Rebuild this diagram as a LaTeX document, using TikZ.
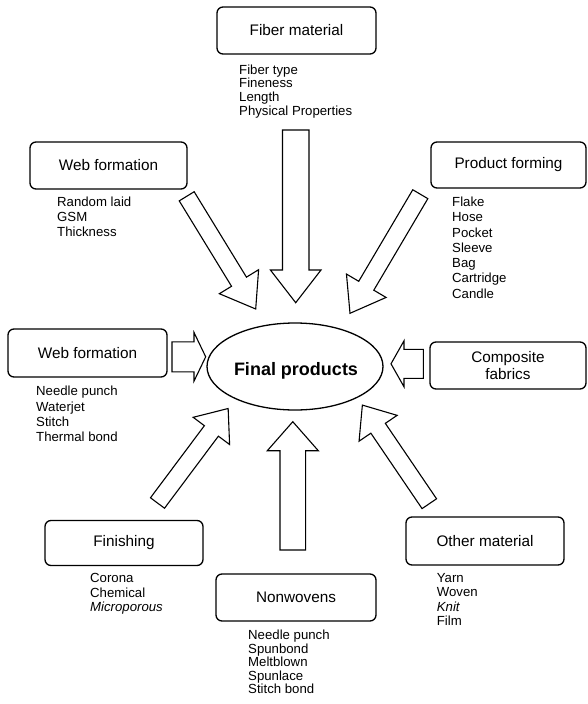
\documentclass[tikz,border=0pt]{standalone}
\usepackage{fontspec}
\setmainfont{Liberation Sans}
\usetikzlibrary{calc,shapes.geometric}

\newcommand\lf[1]{\fontsize{13.2}{#1}\selectfont}
\newcommand\blockarrow[5]{%
  \path let \p1=(#1), \p2=(#2) in \pgfextra{%
    \pgfmathsetmacro\baAng{atan2(\y2-\y1,\x2-\x1)}%
    \pgfmathsetmacro\baLen{veclen(\x2-\x1,\y2-\y1)}%
    \xdef\baAng{\baAng}\xdef\baLen{\baLen}};
  \draw[blockarr,shift={(#1)},rotate=\baAng]
    ({0pt},{-#3pt/2}) -- ({\baLen pt-#5pt},{-#3pt/2}) -- ({\baLen pt-#5pt},{-#4pt/2})
    -- ({\baLen pt},{0pt}) -- ({\baLen pt-#5pt},{#4pt/2}) -- ({\baLen pt-#5pt},{#3pt/2})
    -- ({0pt},{#3pt/2}) -- cycle;
}

\tikzset{
  box/.style={draw, rounded corners=6pt, line width=1.3pt, inner sep=0pt,
    align=center, font=\fontsize{15.3}{16.7}\selectfont},
  lst/.style={anchor=north west, inner sep=0pt, align=left},
  blockarr/.style={draw, line width=1.1pt, line join=miter, fill=white},
}

\begin{document}
\begin{tikzpicture}[x=1pt,y=-1pt]
\useasboundingbox (0,0) rectangle (587,704);
\fill[white] (0,0) rectangle (587,704);

% boxes
\node[box, minimum width=159pt, minimum height=47pt] (fiber) at (296.5,30.5) {Fiber material};
\node[box, minimum width=157pt, minimum height=47pt] (webtop) at (108.5,165.5) {Web formation};
\node[box, minimum width=155pt, minimum height=46pt] (prod) at (508.5,165) {Product forming};
\node[box, minimum width=159pt, minimum height=48pt] (webleft) at (87.5,353) {Web formation};
\node[box, minimum width=156pt, minimum height=47pt] (comp) at (508,365.5) {Composite\\fabrics};
\node[box, minimum width=158pt, minimum height=45pt] (fin) at (124,543) {Finishing};
\node[box, minimum width=160pt, minimum height=47pt] (nonw) at (296,597.5) {Nonwovens};
\node[box, minimum width=158pt, minimum height=48pt] (other) at (485,541) {Other material};

% central ellipse
\node[ellipse, draw, line width=1.3pt, minimum width=176pt, minimum height=87pt, inner sep=0pt] (fp) at (295,366.5) {};
\node[anchor=base, inner sep=0pt, font=\fontsize{18}{20}\selectfont\bfseries] (fpl) at (296,375.5) {Final products};

% lists
\node[lst, font=\lf{13.9}] (fiberl) at (239,64.3) {Fiber type\\Fineness\\Length\\Physical Properties};
\node[lst, font=\lf{14.9}] (webtopl) at (57,197) {Random laid\\GSM\\Thickness};
\node[lst, font=\lf{15.3}] (prodl) at (452,196.7) {Flake\\Hose\\Pocket\\Sleeve\\Bag\\Cartridge\\Candle};
\node[lst, font=\lf{15.3}] (webleftl) at (36,386) {Needle punch\\Waterjet\\Stitch\\Thermal bond};
\node[lst, font=\lf{14.7}] (finl) at (90,573) {Corona\\Chemical\\\textit{Microporous}};
\node[lst, font=\lf{13.5}] (nonwl) at (248,630) {Needle punch\\Spunbond\\Meltblown\\Spunlace\\Stitch bond};
\node[lst, font=\lf{14.4}] (otherl) at (436.7,573) {Yarn\\Woven\\\textit{Knit}\\Film};

% arrow end points
\coordinate (a1s) at (295.7,130);   \coordinate (a1e) at (295.7,302.7);
\coordinate (a2s) at (186.7,196.3); \coordinate (a2e) at (255.7,309);
\coordinate (a3s) at (420.3,194.2); \coordinate (a3e) at (350,313.3);
\coordinate (a4s) at (172,356.8);   \coordinate (a4e) at (205.7,356.8);
\coordinate (a5s) at (423.3,363.8); \coordinate (a5e) at (391,363.8);
\coordinate (a6s) at (157.5,503);   \coordinate (a6e) at (228.3,408.3);
\coordinate (a7s) at (292.8,550);   \coordinate (a7e) at (292.8,421.7);
\coordinate (a8s) at (429.3,503.7); \coordinate (a8e) at (362.3,405);

\blockarrow{a1s}{a1e}{26.5}{50.6}{32.7}
\blockarrow{a2s}{a2e}{17.5}{46}{32}
\blockarrow{a3s}{a3e}{17.5}{46}{32}
\blockarrow{a4s}{a4e}{30}{48.7}{11.7}
\blockarrow{a5s}{a5e}{29}{46}{13}
\blockarrow{a6s}{a6e}{17.5}{45.5}{28}
\blockarrow{a7s}{a7e}{25.7}{51}{29}
\blockarrow{a8s}{a8e}{17.5}{46}{28}
\end{tikzpicture}
\end{document}
